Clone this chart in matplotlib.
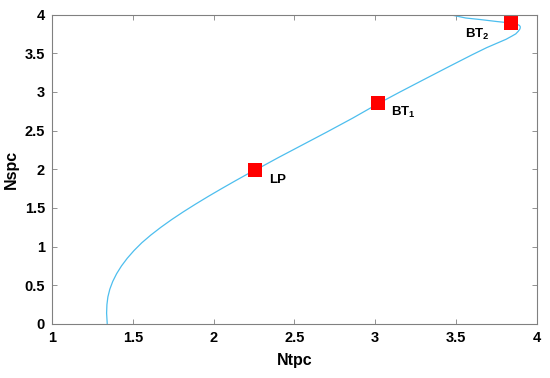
import numpy as np
import matplotlib
matplotlib.use("Agg")
import matplotlib.pyplot as plt

# =========================
# DATA
# =========================
ntpc = [1.342, 1.338, 1.340, 1.346, 1.358, 1.376, 1.400, 1.430, 1.466, 1.508,
        1.556, 1.612, 1.674, 1.741, 1.813, 1.889, 1.968, 2.050, 2.134, 2.220,
        2.255, 2.400, 2.550, 2.700, 2.860, 3.020, 3.150, 3.300, 3.450, 3.600,
        3.690, 3.760, 3.810, 3.845, 3.870, 3.886, 3.896, 3.898, 3.893, 3.880,
        3.840, 3.750, 3.650, 3.560, 3.480]
nspc = [0.000, 0.140, 0.250, 0.350, 0.450, 0.550, 0.650, 0.750, 0.850, 0.950,
        1.050, 1.150, 1.250, 1.350, 1.450, 1.550, 1.650, 1.750, 1.850, 1.950,
        1.985, 2.150, 2.315, 2.480, 2.660, 2.850, 2.995, 3.158, 3.320, 3.480,
        3.572, 3.635, 3.680, 3.720, 3.750, 3.785, 3.815, 3.840, 3.858, 3.872,
        3.890, 3.910, 3.935, 3.955, 3.990]

point_names = ["LP", "BT$_{\\mathbf{1}}$", "BT$_{\\mathbf{2}}$"]
point_x = [2.255, 3.02, 3.84]
point_y = [1.985, 2.85, 3.89]
label_x = [2.345, 3.095, 3.558]
label_y = [1.86, 2.73, 3.74]

xticks = [1, 1.5, 2, 2.5, 3, 3.5, 4]
yticks = [0, 0.5, 1, 1.5, 2, 2.5, 3, 3.5, 4]

# =========================
# STYLE
# =========================
plt.rcParams["font.family"] = ["Liberation Sans", "DejaVu Sans"]
plt.rcParams["font.weight"] = "bold"
plt.rcParams["mathtext.fontset"] = "custom"
plt.rcParams["mathtext.rm"] = "Liberation Sans:bold"
plt.rcParams["mathtext.bf"] = "Liberation Sans:bold"

fig = plt.figure(figsize=(5.5, 3.78), dpi=100)
ax = fig.add_axes([0.0945, 0.1429, 0.8815, 0.8187])

ax.plot(ntpc, nspc, color="#4DBEEE", lw=0.9, solid_joinstyle="round")
ax.plot(point_x, point_y, "s", color="red", markersize=10, markeredgewidth=0)

for name, tx, ty in zip(point_names, label_x, label_y):
    ax.text(tx, ty, name, fontsize=9.5, fontweight="bold", va="center", ha="left")

ax.set_xlim(1, 4)
ax.set_ylim(0, 4)
ax.set_xticks(xticks)
ax.set_yticks(yticks)
ax.set_xticklabels([f"{t:g}" for t in xticks], fontweight="bold")
ax.set_yticklabels([f"{t:g}" for t in yticks], fontweight="bold")
ax.tick_params(direction="in", length=3.5, width=0.6, color="#808080",
               labelsize=10.5, top=True, right=True, pad=5)

for s in ax.spines.values():
    s.set_color("#808080")
    s.set_linewidth(0.8)

ax.set_xlabel("Ntpc", fontsize=11.5, fontweight="bold", labelpad=6)
ax.set_ylabel("Nspc", fontsize=11.5, fontweight="bold", labelpad=4)

fig.savefig("out.png", dpi=100)
